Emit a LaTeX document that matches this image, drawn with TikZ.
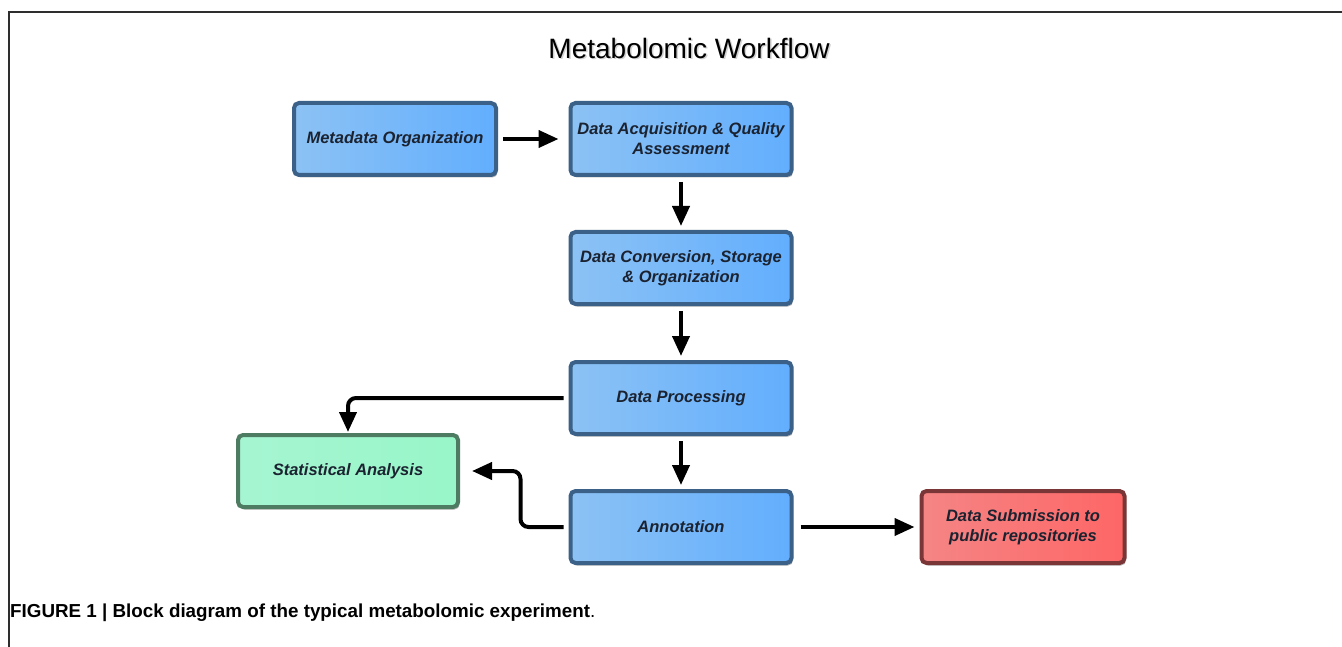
\documentclass[tikz,border=0pt]{standalone}
\usepackage{fontspec}
\usetikzlibrary{arrows.meta,shadows}
\newfontfamily\arialfont{Liberation Sans}

\definecolor{blueFillL}{HTML}{8CC2F4}
\definecolor{blueFillR}{HTML}{62AEFE}
\definecolor{blueEdge}{HTML}{3B6189}
\definecolor{greenFillL}{HTML}{A6F5D2}
\definecolor{greenFillR}{HTML}{98F6C8}
\definecolor{greenEdge}{HTML}{4E7C62}
\definecolor{redFillL}{HTML}{F58585}
\definecolor{redFillR}{HTML}{FE6666}
\definecolor{redEdge}{HTML}{7A3636}
\definecolor{boxText}{HTML}{1B2230}
\definecolor{frameGray}{HTML}{2E2E2E}

\tikzset{
  stage/.style={
    rectangle, rounded corners=5pt, line width=4pt,
    minimum height=72pt, align=center, inner sep=2pt,
    text=boxText,
    font=\arialfont\bfseries\itshape\fontsize{16.5}{20}\selectfont,
    drop shadow={shadow xshift=1.5pt, shadow yshift=-2.5pt, opacity=0.3, fill=black}
  },
  bluebox/.style={stage, draw=blueEdge, left color=blueFillL, right color=blueFillR},
  greenbox/.style={stage, draw=greenEdge, left color=greenFillL, right color=greenFillR},
  redbox/.style={stage, draw=redEdge, left color=redFillL, right color=redFillR},
  flow/.style={line width=4pt, draw=black,
    -{Triangle[length=20pt, width=17pt]}}
}

\begin{document}
\begin{tikzpicture}[x=1pt, y=-1pt]
  % canvas
  \useasboundingbox (0,0) rectangle (1342,647);
  \fill[white] (0,0) rectangle (1342,647);
  \draw[line width=2pt, frameGray] (9,647) -- (9,12) -- (1342,12);

  % heading
  \node[text=black!25, opacity=0.7, font=\arialfont\fontsize{28}{32}\selectfont]
    (titleshade) at (690.5,49.5) {Metabolomic Workflow};
  \node[font=\arialfont\fontsize{28}{32}\selectfont] (title) at (689,48) {Metabolomic Workflow};

  % workflow stages
  \node[bluebox, minimum width=202pt] (meta)  at (395,139) {Metadata Organization};
  \node[bluebox, minimum width=221pt] (acq)   at (681,139) {Data Acquisition \& Quality\\Assessment};
  \node[bluebox, minimum width=221pt] (conv)  at (681,268) {Data Conversion, Storage\\\& Organization};
  \node[bluebox, minimum width=221pt] (proc)  at (681,398) {Data Processing};
  \node[bluebox, minimum width=221pt] (annot) at (681,527) {Annotation};
  \node[greenbox, minimum width=220pt] (stat) at (348,471) {Statistical Analysis};
  \node[redbox, minimum width=203pt] (sub)    at (1023,527) {Data Submission to\\public repositories};

  % connectors
  \draw[flow, shorten <=5pt, shorten >=10pt] (meta.east) -- (acq.west);
  \draw[flow, shorten <=5pt, shorten >=4pt] (acq.south) -- (conv.north);
  \draw[flow, shorten <=5pt, shorten >=4pt] (conv.south) -- (proc.north);
  \draw[flow, shorten <=5pt, shorten >=4pt] (proc.south) -- (annot.north);
  \draw[flow, rounded corners=8pt, shorten <=5pt, shorten >=1pt]
    (proc.west) -| (stat.north);
  \draw[flow, rounded corners=8pt, shorten <=5pt, shorten >=12pt]
    (annot.west) -- ++(-48,0) |- (stat.east);
  \draw[flow, shorten <=7pt, shorten >=5pt] (annot.east) -- (sub.west);

  % caption
  \node[anchor=base west, inner sep=0pt, font=\arialfont\fontsize{18.8}{22}\selectfont]
    (caption) at (10,617) {\textbf{FIGURE 1 | Block diagram of the typical metabolomic experiment}.};
\end{tikzpicture}
\end{document}
